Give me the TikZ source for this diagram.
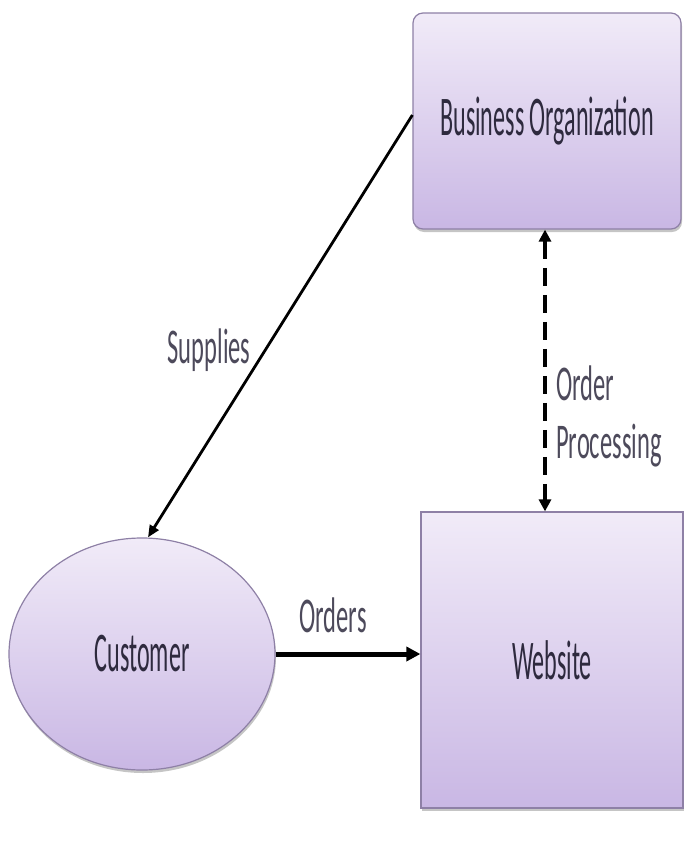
\documentclass[tikz,border=0pt]{standalone}
\usepackage{fontspec}
\setmainfont{Carlito}
\newfontfamily\narrowfont[FakeStretch=0.43]{Carlito}
\newfontfamily\labelfont[FakeStretch=0.49]{Carlito}
\usetikzlibrary{arrows.meta,shadows,shapes.geometric}
\definecolor{txt}{HTML}{2E2A3E}
\definecolor{lavtop}{HTML}{F1EBF8}
\definecolor{lavbot}{HTML}{C9B7E4}
\definecolor{lavline}{HTML}{8E80A6}
\tikzset{
  ent/.style={draw=lavline, line width=1.2pt, top color=lavtop, bottom color=lavbot,
    text=txt, font=\narrowfont\fontsize{56}{60}\selectfont,
    drop shadow={shadow xshift=1pt, shadow yshift=-3pt, fill=black!45, opacity=0.5}},
  lbl/.style={text=txt!85, font=\labelfont\fontsize{50}{58}\selectfont, align=left},
  flow/.style={draw=black, -{Triangle[length=12pt,width=10pt]}}
}
\begin{document}
\begin{tikzpicture}[x=1pt,y=-1pt]
\useasboundingbox (0,0) rectangle (683,865);
\node[ent, rounded corners=10pt, minimum width=268pt, minimum height=216pt] (biz) at (547,121) {Business Organization};
\node[ent, minimum width=262pt, minimum height=296pt] (web) at (552,660) {Website};
\node[ent, ellipse, minimum width=266pt, minimum height=232pt, inner sep=0pt] (cust) at (142,654) {Customer};
\draw[flow, line width=2.8pt] (biz.west |- 0,115) -- (cust.north -| 148,0) coordinate (c1);
\node[lbl] (sup) at (209,350) {Supplies};
\draw[flow, line width=5pt, -{Triangle[length=14pt,width=14pt]}] (cust.east) -- (web.west |- cust.east);
\node[lbl] (ord) at (333,615) {Orders};
\draw[line width=3.5pt, dash pattern=on 18pt off 9pt, {Triangle[length=12pt,width=12pt]}-{Triangle[length=12pt,width=12pt]}] (biz.south -| 545,0) -- (web.north -| 545,0);
\node[lbl, anchor=base west, inner sep=0pt] (op) at (556,458) {Order\\Processing};
\end{tikzpicture}
\end{document}
